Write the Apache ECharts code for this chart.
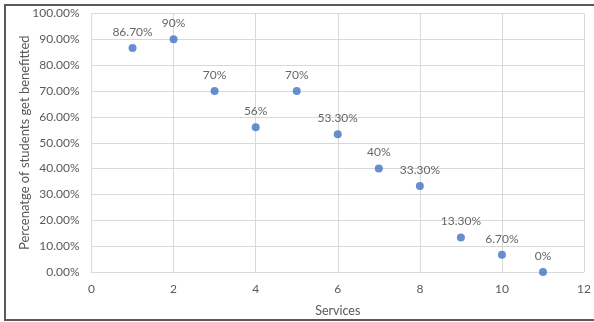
<!DOCTYPE html>
<html>
<head>
<meta charset="utf-8">
<script src="https://cdn.jsdelivr.net/npm/echarts@6/dist/echarts.min.js"></script>
<style>
html,body{margin:0;padding:0;background:#fff;}
#c{width:594px;height:322px;}
</style>
</head>
<body>
<div id="c"></div>
<script>
const services = [1, 2, 3, 4, 5, 6, 7, 8, 9, 10, 11];
const percentages = [86.7, 90, 70, 56, 70, 53.3, 40, 33.3, 13.3, 6.7, 0];
const pointLabels = ['86.70%', '90%', '70%', '56%', '70%', '53.30%', '40%', '33.30%', '13.30%', '6.70%', '0%'];

const chart = echarts.init(document.getElementById('c'));
const font = 'Lato, "Open Sans", sans-serif';
chart.setOption({
  animation: false,
  backgroundColor: '#fff',
  grid: { left: 91.5, right: 6, top: 13.5, bottom: 48.7, containLabel: false },
  graphic: [{
    type: 'rect', silent: true, z: 100,
    shape: { x: 5, y: 5, width: 600, height: 315 },
    style: { fill: 'none', stroke: '#5a5a5a', lineWidth: 2 }
  }],
  xAxis: {
    type: 'value', min: 0, max: 12, interval: 2,
    name: 'Services', nameLocation: 'middle', nameGap: 32,
    nameTextStyle: { color: '#595959', fontSize: 12.5, fontFamily: font },
    axisLine: { show: true, lineStyle: { color: '#d9d9d9', width: 1 } },
    axisTick: { show: false },
    axisLabel: { color: '#595959', fontSize: 12, fontFamily: font, margin: 11 },
    splitLine: { show: true, lineStyle: { color: '#d9d9d9', width: 1 } }
  },
  yAxis: {
    type: 'value', min: 0, max: 100, interval: 10,
    name: 'Percenatge of students get benefitted', nameLocation: 'middle', nameGap: 60,
    nameMoveOverlap: false,
    nameTextStyle: { color: '#595959', fontSize: 13, fontFamily: font },
    axisLine: { show: false },
    axisTick: { show: false },
    axisLabel: { color: '#595959', fontSize: 12, fontFamily: font, margin: 12,
      formatter: v => v.toFixed(2) + '%' },
    splitLine: { show: true, lineStyle: { color: '#d9d9d9', width: 1 } }
  },
  series: [{
    type: 'scatter',
    symbolSize: 8,
    itemStyle: { color: '#4472c4' },
    data: services.map((s, i) => [s, percentages[i]]),
    label: {
      show: true, position: 'top', distance: 6,
      color: '#404040', fontSize: 12, fontFamily: font,
      formatter: p => pointLabels[p.dataIndex]
    }
  }]
});
</script>
</body>
</html>
